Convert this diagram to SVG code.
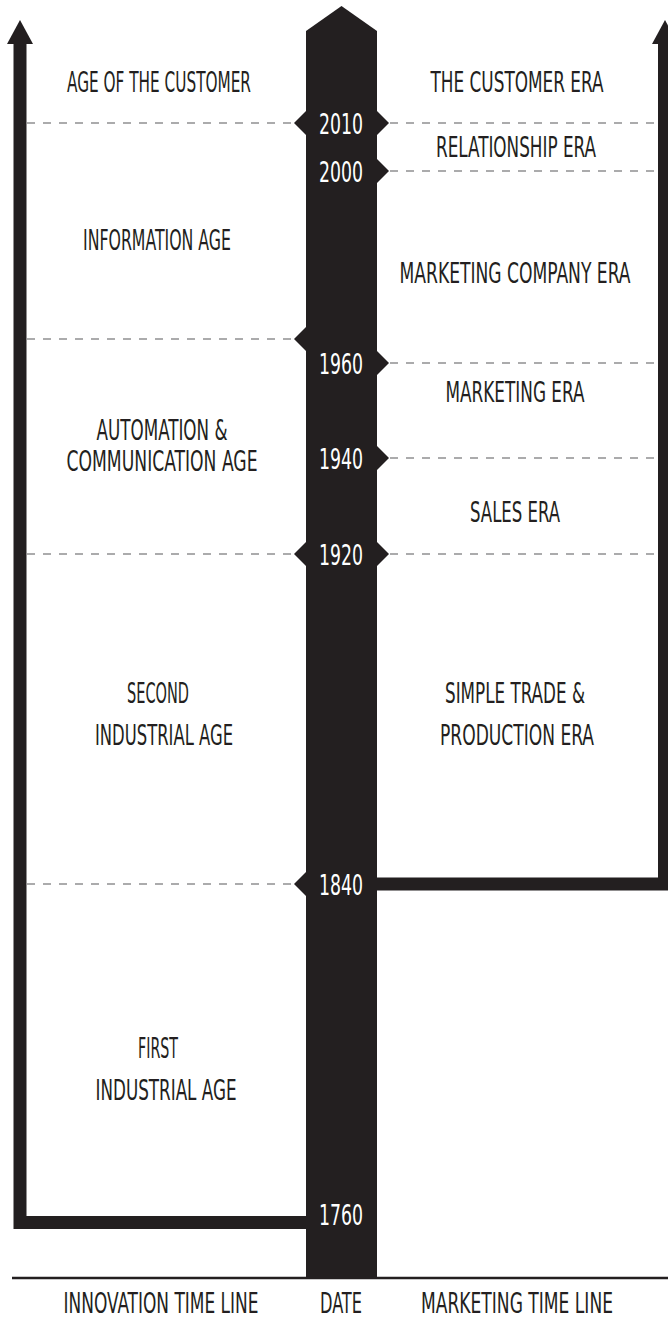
<svg xmlns="http://www.w3.org/2000/svg" width="668" height="1318" viewBox="0 0 668 1318">
  <style>
    .lbl { font-family: "Liberation Sans Narrow", "DejaVu Sans Condensed", "Liberation Sans", sans-serif; font-size: 28px; fill: #231f20; text-anchor: middle; dominant-baseline: central; }
    .yr { font-family: "Liberation Sans Narrow", "DejaVu Sans Condensed", "Liberation Sans", sans-serif; font-size: 29px; fill: #ffffff; text-anchor: middle; dominant-baseline: central; }
    .dash { stroke: #58595b; stroke-width: 1.2; stroke-dasharray: 8 8; fill: none; }
    .ink { fill: #231f20; }
    .rail { stroke: #231f20; stroke-width: 13; fill: none; stroke-linejoin: miter; }
  </style>

  <!-- connectors: guide lines and time-line rails -->
  <g id="connectors">
    <g id="guides">
      <line class="dash" x1="27" y1="123" x2="294" y2="123"/>
      <line class="dash" x1="390" y1="123" x2="658" y2="123"/>
      <line class="dash" x1="390" y1="171" x2="658" y2="171"/>
      <line class="dash" x1="27" y1="339" x2="294" y2="339"/>
      <line class="dash" x1="390" y1="363" x2="658" y2="363"/>
      <line class="dash" x1="390" y1="458" x2="658" y2="458"/>
      <line class="dash" x1="27" y1="554" x2="294" y2="554"/>
      <line class="dash" x1="390" y1="554" x2="658" y2="554"/>
      <line class="dash" x1="27" y1="884" x2="294" y2="884"/>
    </g>
    <g id="innovation-rail">
      <path class="rail" d="M306 1222.5 H20 V40"/>
      <polygon class="ink" points="7,44 20,20 33,44"/>
    </g>
    <g id="marketing-rail">
      <path class="rail" d="M377 884 H664.5 V40"/>
      <polygon class="ink" points="652,44 665,20 678,44"/>
    </g>
    <line x1="12" y1="1278" x2="668" y2="1278" stroke="#231f20" stroke-width="2.5"/>
  </g>

  <!-- date column -->
  <g id="date-bar">
    <polygon class="ink" points="306,1278 306,31 341.5,6 377,31 377,1278"/>
    <!-- notches where guide lines meet the column -->
    <polygon class="ink" points="306,111 294,123 306,135"/>
    <polygon class="ink" points="377,111 389,123 377,135"/>
    <polygon class="ink" points="377,159 389,171 377,183"/>
    <polygon class="ink" points="306,327 294,339 306,351"/>
    <polygon class="ink" points="377,351 389,363 377,375"/>
    <polygon class="ink" points="377,446 389,458 377,470"/>
    <polygon class="ink" points="306,542 294,554 306,566"/>
    <polygon class="ink" points="377,542 389,554 377,566"/>
    <polygon class="ink" points="306,872 294,884 306,896"/>
  </g>

  <g id="years">
    <text class="yr" x="341" y="124" textLength="44" lengthAdjust="spacingAndGlyphs">2010</text>
    <text class="yr" x="341" y="172" textLength="44" lengthAdjust="spacingAndGlyphs">2000</text>
    <text class="yr" x="341" y="364" textLength="44" lengthAdjust="spacingAndGlyphs">1960</text>
    <text class="yr" x="341" y="459" textLength="44" lengthAdjust="spacingAndGlyphs">1940</text>
    <text class="yr" x="341" y="555" textLength="44" lengthAdjust="spacingAndGlyphs">1920</text>
    <text class="yr" x="341" y="885" textLength="44" lengthAdjust="spacingAndGlyphs">1840</text>
    <text class="yr" x="341" y="1215" textLength="44" lengthAdjust="spacingAndGlyphs">1760</text>
  </g>

  <!-- innovation ages -->
  <g id="age-customer"><text class="lbl" x="159" y="82" textLength="184" lengthAdjust="spacingAndGlyphs">AGE OF THE CUSTOMER</text></g>
  <g id="age-information"><text class="lbl" x="157" y="240" textLength="148" lengthAdjust="spacingAndGlyphs">INFORMATION AGE</text></g>
  <g id="age-automation">
    <text class="lbl" x="162" y="430" textLength="131" lengthAdjust="spacingAndGlyphs">AUTOMATION &amp;</text>
    <text class="lbl" x="162" y="461" textLength="191" lengthAdjust="spacingAndGlyphs">COMMUNICATION AGE</text>
  </g>
  <g id="age-second-industrial">
    <text class="lbl" x="158" y="693" textLength="62" lengthAdjust="spacingAndGlyphs">SECOND</text>
    <text class="lbl" x="164" y="735" textLength="138" lengthAdjust="spacingAndGlyphs">INDUSTRIAL AGE</text>
  </g>
  <g id="age-first-industrial">
    <text class="lbl" x="158" y="1048" textLength="40" lengthAdjust="spacingAndGlyphs">FIRST</text>
    <text class="lbl" x="166" y="1090" textLength="141" lengthAdjust="spacingAndGlyphs">INDUSTRIAL AGE</text>
  </g>

  <!-- marketing eras -->
  <g id="era-customer"><text class="lbl" x="517" y="82" textLength="173" lengthAdjust="spacingAndGlyphs">THE CUSTOMER ERA</text></g>
  <g id="era-relationship"><text class="lbl" x="516" y="147" textLength="160" lengthAdjust="spacingAndGlyphs">RELATIONSHIP ERA</text></g>
  <g id="era-marketing-company"><text class="lbl" x="515" y="273" textLength="231" lengthAdjust="spacingAndGlyphs">MARKETING COMPANY ERA</text></g>
  <g id="era-marketing"><text class="lbl" x="515" y="392" textLength="139" lengthAdjust="spacingAndGlyphs">MARKETING ERA</text></g>
  <g id="era-sales"><text class="lbl" x="515" y="512" textLength="90" lengthAdjust="spacingAndGlyphs">SALES ERA</text></g>
  <g id="era-simple-trade">
    <text class="lbl" x="515" y="693" textLength="140" lengthAdjust="spacingAndGlyphs">SIMPLE TRADE &amp;</text>
    <text class="lbl" x="517" y="735" textLength="154" lengthAdjust="spacingAndGlyphs">PRODUCTION ERA</text>
  </g>

  <!-- column headings -->
  <g id="headings">
    <text class="lbl" x="161" y="1303" textLength="195" lengthAdjust="spacingAndGlyphs">INNOVATION TIME LINE</text>
    <text class="lbl" x="341" y="1303" textLength="42" lengthAdjust="spacingAndGlyphs">DATE</text>
    <text class="lbl" x="517" y="1303" textLength="192" lengthAdjust="spacingAndGlyphs">MARKETING TIME LINE</text>
  </g>
</svg>
